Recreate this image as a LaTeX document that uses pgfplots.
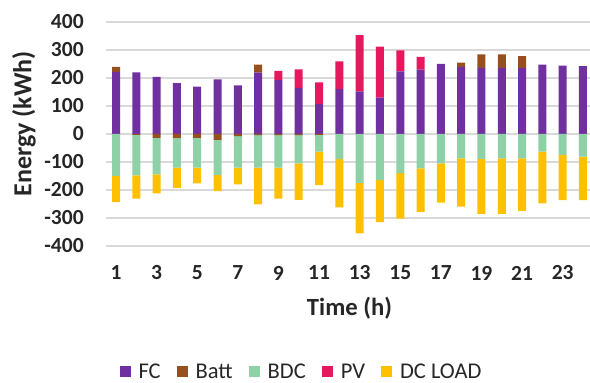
\documentclass[border=0pt]{standalone}
\usepackage{pgfplots}
\usepackage{pgfplotstable}
\pgfplotsset{compat=1.18}
\usepackage{fontspec}
\setmainfont{Carlito}
\definecolor{fc}{HTML}{7030A0}
\definecolor{batt}{HTML}{96501E}
\definecolor{bdc}{HTML}{8ED1A6}
\definecolor{pv}{HTML}{E8185E}
\definecolor{dcload}{HTML}{FFC000}
\definecolor{gridgray}{HTML}{D9D9D9}
\definecolor{txt}{HTML}{262626}

\pgfplotstableread{
h FC BattP PV BattN BDC DC
1 222 18 0 0 -150 -93
2 220 0 0 -3 -145 -83
3 204 0 0 -14 -130 -68
4 182 0 0 -14 -106 -72
5 169 0 0 -14 -106 -56
6 195 0 0 -21 -126 -57
7 174 0 0 -8 -112 -60
8 219 29 0 -4 -116 -131
9 192 0 33 -4 -116 -111
10 165 0 66 -4 -101 -130
11 108 0 76 -3 -60 -120
12 160 0 99 0 -90 -172
13 152 0 201 0 -175 -180
14 130 0 182 0 -165 -150
15 224 0 75 0 -140 -162
16 230 0 45 0 -123 -155
17 250 0 0 0 -105 -140
18 240 15 0 0 -87 -172
19 236 48 0 0 -90 -195
20 236 48 0 0 -87 -198
21 236 42 0 0 -87 -188
22 248 0 0 0 -63 -185
23 244 0 0 0 -75 -161
24 242 0 0 0 -81 -155
}\data

\pgfplotsset{
  base/.style={
    at={(105.85pt,137pt)}, anchor=south west,
    scale only axis, width=487.3pt, height=224pt,
    xmin=0.5, xmax=24.5, ymin=-400, ymax=400,
    enlargelimits=false,
    ybar stacked, bar width=8pt,
    axis line style={draw=none},
    tick style={draw=none},
    legend image code/.code={\fill[##1] (0pt,-5.5pt) rectangle (11pt,5.5pt);},
  }
}

\begin{document}
\begin{tikzpicture}
\useasboundingbox (0,0) rectangle (590pt,383pt);
\begin{axis}[base,
  ymajorgrids,
  grid style={draw=gridgray, line width=1.5pt},
  ytick={-400,-300,-200,-100,0,100,200,300,400},
  yticklabels={-400,-300,-200,-100,0,100,200,300,400},
  xtick={1,3,5,7,9,11,13,15,17,19,21,23},
  xticklabels={1,3,5,7,9,11,13,15,17,19,21,23},
  yticklabel style={anchor=east, inner sep=0pt, xshift=-22pt, text=txt, font=\bfseries\fontsize{21.5pt}{24pt}\selectfont},
  xticklabel style={anchor=center, inner sep=0pt, yshift=-27pt, text=txt, font=\bfseries\fontsize{21.5pt}{24pt}\selectfont},
  xlabel={Time (h)},
  xlabel style={at={(axis description cs:0.5,-0.277)}, anchor=center, inner sep=0pt, text=txt, font=\bfseries\fontsize{24.7pt}{28pt}\selectfont},
  ylabel={Energy (kWh)},
  ylabel style={at={(axis description cs:-0.168,0.545)}, anchor=center, inner sep=0pt, text=txt, font=\bfseries\fontsize{26pt}{30pt}\selectfont},
  legend columns=5,
  legend style={at={(axis description cs:0.4015,-0.5625)}, anchor=center, draw=none, fill=none, inner sep=0pt,
    text=txt, font=\fontsize{22.5pt}{26pt}\selectfont,
    /tikz/every odd column/.append style={column sep=6pt},
    /tikz/every even column/.append style={column sep=14pt}},
]
\addplot[fill=fc, draw=none] table[x=h, y=FC]{\data};
\addlegendentry{FC}
\addplot[fill=batt, draw=none] table[x=h, y=BattP]{\data};
\addlegendentry{Batt}
\addlegendimage{fill=bdc, draw=none}
\addlegendentry{BDC}
\addplot[fill=pv, draw=none] table[x=h, y=PV]{\data};
\addlegendentry{PV}
\addlegendimage{fill=dcload, draw=none}
\addlegendentry{DC LOAD}
\end{axis}
\begin{axis}[base, xtick=\empty, ytick=\empty]
\addplot[fill=batt, draw=none] table[x=h, y=BattN]{\data};
\addplot[fill=bdc, draw=none] table[x=h, y=BDC]{\data};
\addplot[fill=dcload, draw=none] table[x=h, y=DC]{\data};
\end{axis}
\end{tikzpicture}
\end{document}
